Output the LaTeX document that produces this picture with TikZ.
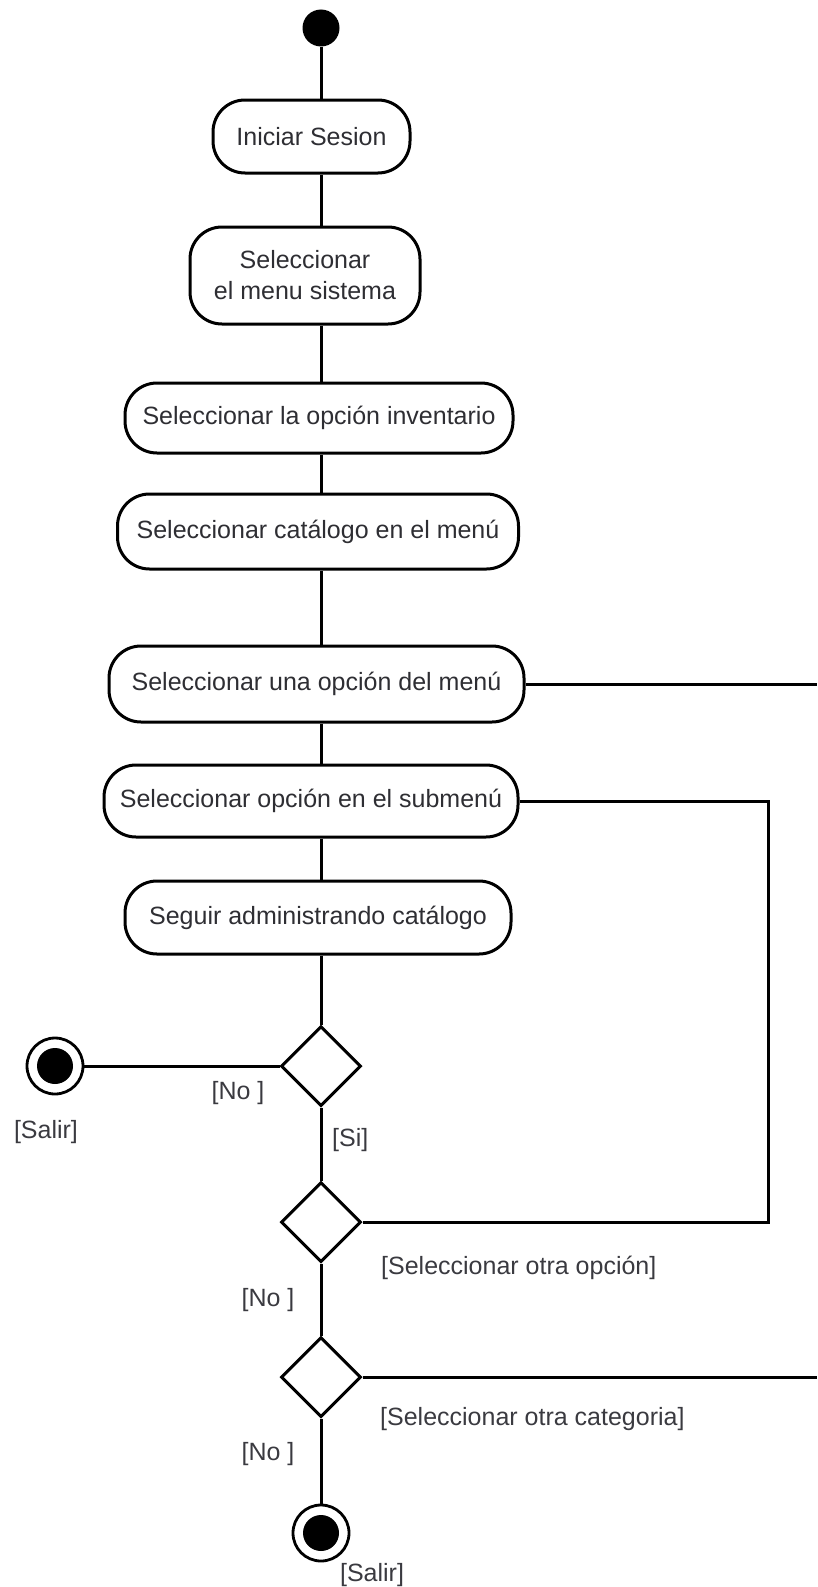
\documentclass[tikz,border=0pt]{standalone}
\usepackage{fontspec}
\setmainfont{Liberation Sans}
\usepackage{tikz}
\usetikzlibrary{shapes.geometric,calc}
\definecolor{ink}{HTML}{2E2E33}
\definecolor{guard}{HTML}{3A3A40}
\tikzset{
  act/.style={draw,line width=3pt,rounded corners=32pt,inner sep=0pt,text=ink,font=\fontsize{25}{31}\selectfont,align=center},
  choice/.style={diamond,draw,line width=3pt,minimum width=80pt,minimum height=80pt,inner sep=0pt},
  startnode/.style={circle,fill,minimum size=37pt,inner sep=0pt},
  endnode/.style={circle,draw,line width=2.8pt,minimum size=56pt,inner sep=0pt,
    path picture={\fill (path picture bounding box.center) circle (18pt);}},
  flow/.style={draw,line width=3pt},
  guardlbl/.style={text=guard,font=\fontsize{25}{30}\selectfont,inner sep=0pt}
}

\begin{document}
\begin{tikzpicture}[x=1pt,y=-1pt]
  \useasboundingbox (0,0) rectangle (817,1587);
  \coordinate (rim) at (817,0);
  \node[startnode] (start) at (321,28) {};
  \node[act,minimum width=197pt,minimum height=73pt] (iniciar) at (311.5,136.5) {Iniciar Sesion};
  \node[act,minimum width=230pt,minimum height=97pt] (menu) at (305,275.5) {Seleccionar\\el menu sistema};
  \node[act,minimum width=388pt,minimum height=70pt] (inventario) at (319,418) {Seleccionar la opción inventario};
  \node[act,minimum width=401pt,minimum height=75pt] (catalogo) at (318,531.5) {Seleccionar catálogo en el menú};
  \node[act,minimum width=415pt,minimum height=76pt] (opcion) at (316.5,684) {Seleccionar una opción del menú};
  \node[act,minimum width=414pt,minimum height=72pt] (submenu) at (311,801) {Seleccionar opción en el submenú};
  \node[act,minimum width=386pt,minimum height=73pt] (seguir) at (318,917.5) {Seguir administrando catálogo};
  \node[choice] (d1) at (321,1066) {};
  \node[choice] (d2) at (321,1222) {};
  \node[choice] (d3) at (321,1377) {};
  \node[endnode] (finL) at (55,1066) {};
  \node[endnode] (finB) at (321,1533) {};

  \draw[flow] (start) -- (start |- iniciar.north);
  \draw[flow] (start |- iniciar.south) -- (start |- menu.north);
  \draw[flow] (start |- menu.south) -- (start |- inventario.north);
  \draw[flow] (start |- inventario.south) -- (start |- catalogo.north);
  \draw[flow] (start |- catalogo.south) -- (start |- opcion.north);
  \draw[flow] (start |- opcion.south) -- (start |- submenu.north);
  \draw[flow] (start |- submenu.south) -- (start |- seguir.north);
  \draw[flow] (start |- seguir.south) -- (d1.north);
  \draw[flow] (d1.south) -- (d2.north); \draw[flow] (d2.south) -- (d3.north);
  \draw[flow] (d3.south) -- (finB.north);
  \draw[flow] (d1.west) -- (finL.east);
  \draw[flow] (submenu.east) -- ++(249,0) |- (d2.east);
  \draw[flow] (opcion.east) -- (opcion.east -| rim);
  \draw[flow] (d3.east) -- (d3.east -| rim);

  \node[guardlbl] (noA) at (238,1093) {[No ]};
  \node[guardlbl] (salirL) at (46,1132) {[Salir]};
  \node[guardlbl,anchor=west] (si) at (332,1140) {[Si]};
  \node[guardlbl,anchor=west] (otraop) at (381,1268) {[Seleccionar otra opción]};
  \node[guardlbl] (noB) at (268,1300) {[No ]};
  \node[guardlbl,anchor=west] (otracat) at (380,1419) {[Seleccionar otra categoria]};
  \node[guardlbl] (noC) at (268,1454) {[No ]};
  \node[guardlbl] (salirB) at (372,1575) {[Salir]};
\end{tikzpicture}
\end{document}
